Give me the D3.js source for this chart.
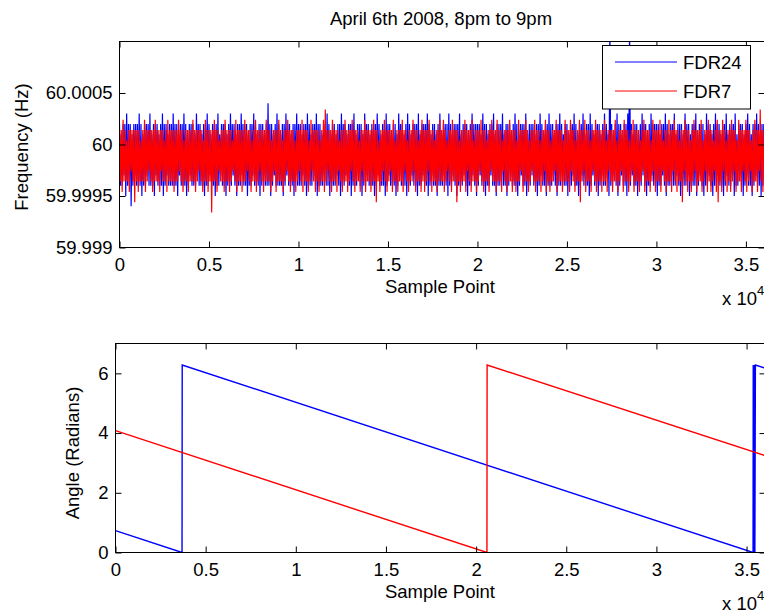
<!DOCTYPE html>
<html>
<head>
<meta charset="utf-8">
<script src="https://cdn.jsdelivr.net/npm/d3@7"></script>
<style>
  body { margin: 0; background: #fff; }
  text { font-family: "Liberation Sans", Arial, Helvetica, sans-serif; fill: #000; }
</style>
</head>
<body>
<div id="chart"></div>
<script>
// ---- data ----
const title = "April 6th 2008, 8pm to 9pm";
const seriesNames = ["FDR24", "FDR7"];
const seriesColors = ["#0000ff", "#ff0000"];

const xTickValues = [0, 5000, 10000, 15000, 20000, 25000, 30000, 35000];
const xTickLabels = ["0", "0.5", "1", "1.5", "2", "2.5", "3", "3.5"];
const freqTickValues = [59.999, 59.9995, 60, 60.0005];
const freqTickLabels = ["59.999", "59.9995", "60", "60.0005"];
const angleTickValues = [0, 2, 4, 6];
const angleTickLabels = ["0", "2", "4", "6"];

// frequency deviation from 60 Hz in units of 0.01 mHz, read roughly every 50 samples
const sampleCount = 36000;
const fdr24Dev = [
  20,-40,10,-40,20,-30,20,-50,30,-40,20,-40,20,-60,10,-40,20,-30,20,-40,
  20,-40,30,-40,20,-50,10,-40,20,-40,20,-30,20,-40,30,-40,10,-40,20,-50,
  20,-30,20,-40,10,-40,20,-40,30,-50,20,-40,20,-30,10,-40,20,-40,20,-40,
  30,-40,20,-40,20,-50,10,-30,20,-40,20,-40,30,-40,20,-50,10,-40,20,-30,
  20,-40,20,-40,10,-40,30,-30,20,-40,20,-40,10,-40,20,-50,20,-40,30,-40,
  20,-30,10,-40,20,-40,20,-50,20,-40,30,-40,10,-30,20,-40,20,-40,20,-50,
  10,-40,20,-40,30,-40,20,-30,20,-40,10,-50,20,-40,20,-40,30,-30,20,-40,
  20,-40,20,-50,10,-40,20,-40,20,-30,30,-40,20,-40,10,-40,20,-50,20,-40,
  20,-30,10,-40,20,-40,40,-40,20,-50,20,-40,10,-30,20,-40,30,-40,20,-40,
  10,-40,20,-50,20,-40,30,-30,20,-40,20,-40,10,-40,20,-50,20,-30,30,-40,
  20,-40,20,-40,10,-30,20,-40,20,-50,30,-40,20,-40,10,-40,20,-30,20,-40,
  30,-50,20,-40,20,-40,10,-40,20,-30,20,-40,30,-40,20,-50,10,-40,20,-40,
  20,-40,10,-30,20,-40,20,-50,30,-40,20,-40,20,-30,10,-40,20,-40,20,-50,
  20,-40,30,-40,10,-40,20,-30,20,-40,20,-50,10,-40,30,-40,20,-30,20,-40,
  10,-40,20,-40,20,-50,20,-40,30,-30,20,-40,10,-40,20,-40,20,-50,30,-40,
  20,-30,20,-40,10,-40,20,-40,20,-50,10,-40,30,-30,20,-40,20,-40,10,-40,
  20,-50,30,-40,20,-40,10,-30,20,-40,20,-40,20,-50,30,-40,10,-40,20,-30,
  20,-40,20,-40,30,-50,20,-40,10,-30,20,-40,20,-40,10,-50,20,-40,30,-40,
  10,-40,20,-30,20,-40,20,-50,30,-40,20,-40,10,-30,20,-40,20,-50,20,-40,
  30,-40,10,-40,20,-30,20,-40,20,-50,10,-40,20,-40,30,-30,20,-40,20,-50,
  20,-40,20,-30,10,-40,30,-40,20,-50,20,-40,10,-40,20,-30,20,-40,30,-40,
  10,-50,20,-40,20,-40,20,-30,30,-40,10,-40,20,-50,20,-40,20,-30,10,-40,
  20,-40,30,-40,20,-50,10,-40,20,-30,20,-40,20,-40,30,-50,10,-40,20,-40,
  20,-30,20,-40,10,-40,20,-50,20,-40,30,-30,20,-40,10,-40,20,-50,20,-40,
  30,-40,20,-40,20,-30,10,-40,20,-50,20,-40,30,-40,20,-30,10,-40,20,-40,
  20,-50,10,-40,20,-40,20,-30,30,-40,20,-40,10,-50,20,-40,20,-30,30,-40,
  10,-40,20,-40,20,-50,30,-40,20,-30,10,-40,20,-40,20,-50,20,-40,10,-30,
  20,-40,30,-40,20,-30,10,-50,120,-40,20,-40,10,-30,20,-40,30,-50,20,-40,
  20,-30,10,-40,20,-40,20,-50,30,-40,120,-40,20,-30,10,-40,20,-40,20,-50,
  10,-40,20,-40,30,-30,20,-40,20,-50,10,-40,20,-40,30,-30,20,-40,20,-40,
  20,-50,20,-40,10,-40,20,-30,20,-40,30,-50,20,-40,10,-40,20,-30,20,-40,
  30,-40,10,-30,20,-40,20,-50,20,-40,10,-40,30,-40,20,-30,20,-50,10,-40,
  20,-40,20,-40,30,-50,10,-40,20,-30,20,-40,20,-50,10,-40,30,-40,20,-30,
  20,-40,10,-50,20,-40,30,-40,20,-30,20,-40,10,-40,20,-50,20,-40,30,-30,
  10,-40,20,-40,20,-30,20,-50,30,-40,10,-40,20,-30,20,-40,20,-50,10,-40,
  20,-30,30,-40,20,-40,10,-50,20,-40,20,-30,30,-40,20,-40,10,-50,20,-40,
  20
];
const fdr7Dev = [
  14,-36,14,-46,24,-36,14,-36,4,-36,14,-46,14,-26,14,-36,14,-56,14,-36,
  14,-46,14,-36,4,-36,14,-36,24,-46,14,-36,14,-26,14,-36,14,-46,14,-36,
  24,-36,14,-36,14,-46,14,-26,14,-36,4,-36,14,-46,24,-36,14,-36,14,-36,
  14,-46,14,-36,14,-36,24,-26,14,-36,14,-46,4,-36,14,-36,14,-46,14,-36,
  14,-36,24,-36,14,-46,14,-36,14,-26,14,-36,14,-46,4,-36,24,-36,14,-46,
  14,-36,14,-66,14,-36,24,-36,14,-46,14,-26,4,-36,14,-36,14,-46,24,-36,
  14,-36,14,-46,14,-36,4,-26,14,-36,24,-46,14,-36,14,-36,14,-46,14,-36,
  24,-36,14,-26,14,-36,14,-46,4,-36,14,-36,24,-46,14,-36,14,-26,14,-36,
  14,-46,14,-36,24,-36,14,-36,14,-46,4,-36,14,-26,14,-46,14,-36,24,-36,
  14,-36,4,-46,14,-36,14,-26,24,-36,14,-46,14,-36,14,-36,4,-46,14,-36,
  14,-26,14,-36,24,-46,14,-36,14,-36,14,-46,4,-36,24,-26,14,-36,14,-46,
  14,-36,14,-46,4,-36,14,-36,24,-46,34,-36,14,-26,14,-36,14,-46,24,-36,
  14,-36,14,-46,14,-26,4,-36,14,-46,14,-36,24,-36,14,-46,14,-36,14,-26,
  24,-36,14,-46,14,-36,14,-36,4,-46,14,-26,14,-36,24,-46,14,-36,14,-36,
  14,-46,14,-36,24,-36,14,-56,14,-36,4,-46,14,-36,14,-26,24,-36,14,-46,
  14,-36,14,-26,14,-46,24,-36,4,-36,14,-46,14,-36,14,-36,24,-46,14,-26,
  14,-36,4,-46,14,-36,14,-36,24,-26,14,-46,14,-36,4,-36,14,-46,24,-36,
  14,-46,14,-36,14,-26,24,-36,14,-46,14,-36,4,-36,14,-46,14,-36,24,-36,
  14,-36,24,-46,14,-36,4,-26,14,-36,14,-46,24,-36,14,-36,14,-56,14,-36,
  4,-46,14,-36,14,-36,24,-46,14,-26,14,-36,14,-46,24,-36,4,-36,14,-46,
  14,-36,14,-26,24,-36,14,-46,14,-36,4,-36,14,-46,14,-26,24,-36,14,-36,
  14,-46,24,-36,14,-36,14,-46,4,-26,14,-36,14,-46,14,-36,24,-36,14,-46,
  14,-36,14,-46,4,-36,24,-36,14,-26,14,-46,14,-36,24,-36,14,-46,4,-36,
  14,-26,14,-36,24,-46,14,-36,14,-36,4,-46,14,-36,14,-26,24,-46,14,-36,
  14,-46,4,-36,14,-36,14,-26,24,-46,14,-36,14,-36,14,-46,4,-36,24,-36,
  14,-36,14,-46,24,-26,14,-36,14,-46,4,-36,14,-36,24,-56,14,-36,14,-26,
  24,-46,14,-36,14,-36,4,-46,14,-26,14,-36,24,-46,14,-36,14,-36,14,-46,
  14,-36,24,-36,4,-46,14,-26,14,-36,14,-46,14,-36,24,-36,4,-46,14,-36,
  14,-26,14,-46,24,-36,14,-36,14,-46,4,-36,14,-26,24,-46,14,-36,14,-36,
  14,-46,4,-36,14,-26,24,-46,14,-36,14,-36,14,-46,4,-36,24,-26,14,-46,
  14,-36,14,-36,24,-46,14,-26,4,-36,14,-46,14,-36,24,-36,14,-46,14,-26,
  24,-36,14,-46,14,-36,4,-36,14,-56,14,-26,24,-36,14,-46,14,-36,4,-46,
  14,-36,24,-26,14,-46,14,-36,14,-36,24,-46,4,-36,14,-26,14,-46,24,-36,
  14,-46,14,-36,4,-26,14,-46,24,-56,14,-36,14,-46,24,-26,14,-36,4,-46,
  14,-36,14,-46,24,-36,14,-26,14,-46,4,-36,24,-36,14,-46,14,-26,14,-36,
  24,-46,14,-36,14,-26,4,-46,14,-36,24,-36,14,-46,14,-26,34,-36,14,-46,
  14
];

// phase angle breakpoints (sample, radians)
const fdr24AngleSamples = [0, 3690, 3700, 35360, 35370, 35400, 35430, 35460, 35490, 36000];
const fdr24AngleValues  = [0.73, 0, 6.28, 0, 6.28, 0.02, 6.28, 0.02, 6.28, 6.18];
const fdr7AngleSamples  = [0, 20600, 20610, 36000];
const fdr7AngleValues   = [4.08, 0, 6.28, 3.25];

// ---- drawing ----
const W = 764, H = 613, FS = 18.5, TICK = 6;

const svg = d3.select("#chart").append("svg")
  .attr("width", W)
  .attr("height", H);

function panel(box, xScale, yScale, yTicks, yLabels, clipId) {
  const g = svg.append("g");
  svg.append("clipPath").attr("id", clipId)
    .append("rect")
    .attr("x", box.left).attr("y", box.top)
    .attr("width", box.right - box.left).attr("height", box.bottom - box.top);

  const plot = g.append("g").attr("clip-path", `url(#${clipId})`);

  const styleAxis = a => {
    a.select(".domain").remove();
    a.selectAll(".tick line").attr("stroke", "#000");
    a.selectAll("text").style("font-size", FS + "px")
      .attr("font-family", null).attr("fill", "#000");
    a.attr("font-size", null).attr("font-family", null);
  };

  const axes = g.append("g");
  axes.append("g")
    .attr("transform", `translate(0,${box.bottom})`)
    .call(d3.axisBottom(xScale).tickValues(xTickValues)
      .tickFormat((d, i) => xTickLabels[i])
      .tickSizeInner(-TICK).tickSizeOuter(0).tickPadding(10))
    .call(styleAxis);
  axes.append("g")
    .attr("transform", `translate(0,${box.top})`)
    .call(d3.axisTop(xScale).tickValues(xTickValues).tickFormat("")
      .tickSizeInner(-TICK).tickSizeOuter(0))
    .call(styleAxis);
  axes.append("g")
    .attr("transform", `translate(${box.left},0)`)
    .call(d3.axisLeft(yScale).tickValues(yTicks)
      .tickFormat((d, i) => yLabels[i])
      .tickSizeInner(-TICK).tickSizeOuter(0).tickPadding(7))
    .call(styleAxis);
  axes.append("g")
    .attr("transform", `translate(${box.right},0)`)
    .call(d3.axisRight(yScale).tickValues(yTicks).tickFormat("")
      .tickSizeInner(-TICK).tickSizeOuter(0))
    .call(styleAxis);

  axes.append("rect")
    .attr("x", box.left).attr("y", box.top)
    .attr("width", box.right - box.left).attr("height", box.bottom - box.top)
    .attr("fill", "none").attr("stroke", "#000").attr("stroke-width", 1);

  return { g, plot, axes };
}

// top: frequency
const topBox = { left: 119.5, right: 764.5, top: 41.5, bottom: 247.5 };
const xTop = d3.scaleLinear().domain([0, sampleCount]).range([119.5, 763.8]);
const yTop = d3.scaleLinear().domain([59.999, 60.001]).range([topBox.bottom, topBox.top]);
const freqPanel = panel(topBox, xTop, yTop, freqTickValues, freqTickLabels, "clipTop");

[fdr24Dev, fdr7Dev].forEach((s, k) => {
  const step = sampleCount / (s.length - 1);
  const line = d3.line()
    .x((d, i) => xTop(i * step))
    .y(d => yTop(60 + d * 1e-5));
  freqPanel.plot.append("path")
    .attr("d", line(s))
    .attr("fill", "none")
    .attr("stroke", seriesColors[k])
    .attr("stroke-width", 1.2)
    .attr("stroke-linejoin", "miter")
    .attr("stroke-miterlimit", 2);
});
freqPanel.axes.raise();

// bottom: angle
const botBox = { left: 115.5, right: 765.5, top: 343.5, bottom: 552.5 };
const xBot = d3.scaleLinear().domain([0, sampleCount]).range([115.5, 764.6]);
const yBot = d3.scaleLinear().domain([0, 7]).range([botBox.bottom, botBox.top]);
const anglePanel = panel(botBox, xBot, yBot, angleTickValues, angleTickLabels, "clipBot");

const angleLine = d3.line().x(d => xBot(d[0])).y(d => yBot(d[1]));
[[fdr24AngleSamples, fdr24AngleValues], [fdr7AngleSamples, fdr7AngleValues]].forEach(([xs, ys], k) => {
  anglePanel.plot.append("path")
    .attr("d", angleLine(xs.map((x, i) => [x, ys[i]])))
    .attr("fill", "none")
    .attr("stroke", seriesColors[k])
    .attr("stroke-width", 1.4);
});
anglePanel.axes.raise();

// legend
const leg = svg.append("g");
leg.append("rect")
  .attr("x", 602.5).attr("y", 45.5).attr("width", 148).attr("height", 63.5)
  .attr("fill", "#fff").attr("stroke", "#000");
seriesNames.forEach((name, k) => {
  const y = 62 + k * 29;
  leg.append("line")
    .attr("x1", 615).attr("x2", 677).attr("y1", y).attr("y2", y)
    .attr("stroke", seriesColors[k]).attr("stroke-width", 1);
  leg.append("text")
    .attr("x", 683).attr("y", y + 7)
    .style("font-size", FS + "px")
    .text(name);
});

// texts
svg.append("text")
  .attr("x", 441).attr("y", 25)
  .attr("text-anchor", "middle")
  .style("font-size", FS + "px")
  .text(title);

[293, 598].forEach(y => {
  svg.append("text")
    .attr("x", 440).attr("y", y)
    .attr("text-anchor", "middle")
    .style("font-size", FS + "px")
    .text("Sample Point");
});

[[305, 722], [610, 722]].forEach(([y, x]) => {
  const t = svg.append("text").attr("x", x).attr("y", y).style("font-size", FS + "px");
  t.append("tspan").text("x 10");
  t.append("tspan").attr("dy", -10).style("font-size", "13px").text("4");
});

svg.append("text")
  .attr("transform", "translate(28,147) rotate(-90)")
  .attr("text-anchor", "middle")
  .style("font-size", FS + "px")
  .text("Frequency (Hz)");

svg.append("text")
  .attr("transform", "translate(79,453) rotate(-90)")
  .attr("text-anchor", "middle")
  .style("font-size", FS + "px")
  .text("Angle (Radians)");
</script>
</body>
</html>
